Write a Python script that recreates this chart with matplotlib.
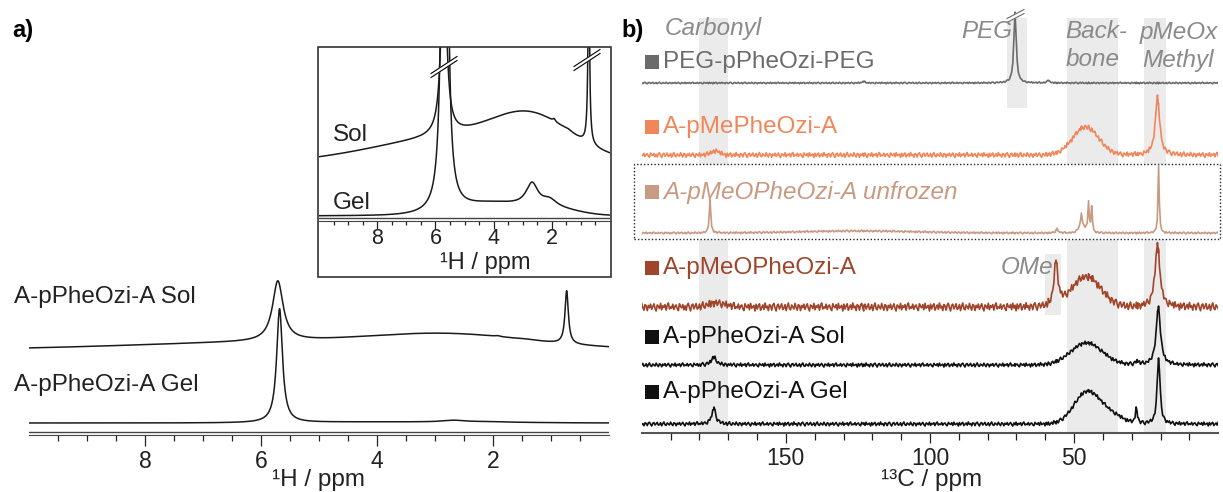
import numpy as np
import matplotlib.pyplot as plt
from matplotlib.lines import Line2D
from matplotlib.patches import Rectangle
from matplotlib.ticker import FixedLocator

plt.rcParams['font.family'] = ['Liberation Sans', 'DejaVu Sans']

W, H = 1223, 492

# ---------- panel a : 1H spectra ----------
# lorentz peaks (ppm, half width, height) and broad gaussians (ppm, sigma, height)
h_sol_lor = [(5.71, 0.11, 60), (0.73, 0.035, 53), (1.92, 0.05, 0.8), (1.45, 0.15, 0.5)]
h_sol_gau = [(5.0, 3.0, 9), (2.7, 1.3, 10)]
h_gel_lor = [(5.68, 0.06, 114), (2.68, 0.25, 1.9), (2.08, 0.3, 0.6)]
h_gel_gau = [(4.0, 1.2, 1.0), (1.8, 0.8, 0.4)]
h_labels = ['A-pPheOzi-A Sol', 'A-pPheOzi-A Gel']
h_offsets = [84.3, 11.5]
inset_labels = ['Sol', 'Gel']
inset_scale = [3.1, 12]
inset_offset = [57.2, 5]
h_major = [8, 6, 4, 2]
h_minor = [9.5, 9, 8.5, 7.5, 7, 6.5, 5.5, 5, 4.5, 3.5, 3, 2.5, 1.5, 1, 0.5]

# ---------- panel b : 13C spectra ----------
c_names = ['PEG-pPheOzi-PEG', 'A-pMePheOzi-A', 'A-pMeOPheOzi-A unfrozen',
           'A-pMeOPheOzi-A', 'A-pPheOzi-A Sol', 'A-pPheOzi-A Gel']
c_colors = ['#6b6b6b', '#f0875a', '#c99a82', '#a0452a', '#111111', '#111111']
c_lor = [
    [(70.5, 0.5, 71), (59, 0.4, 3), (123, 0.5, 1.5)],
    [(21.1, 0.9, 58)],
    [(176.3, 0.3, 33), (47.5, 0.35, 14), (45.0, 0.25, 28), (43.9, 0.25, 25),
     (20.7, 0.25, 67), (56, 0.5, 4)],
    [(56.3, 0.8, 44), (21.1, 1.0, 62)],
    [(20.8, 0.9, 58), (175, 1.0, 8), (28, 0.8, 3)],
    [(20.7, 0.6, 66), (28.4, 0.4, 15), (175, 0.8, 16)],
]
c_gau = [
    [],
    [(46, 4.5, 28), (174.5, 1.5, 4)],
    [(125, 20, 2), (47, 1.5, 5)],
    [(45.7, 5, 30), (174, 3, 4)],
    [(45.7, 5.5, 22)],
    [(45.5, 4.5, 32), (37, 4, 8)],
]
c_offsets = [350, 278, 200, 126, 68, 9]
c_noise = [0.8, 2.5, 1.0, 4.0, 2.0, 2.0]
c_label_y = [62, 127, 192, 268, 337, 392]
c_major = [150, 100, 50]
c_minor = [190, 180, 170, 160, 140, 130, 120, 110, 90, 80, 70, 60, 40, 30, 20, 10]

# hand typed baseline ripple
ripple = [0.3, -0.8, 0.5, 0.9, -0.2, -1.0, 0.4, 0.7, -0.5, 0.1, 0.8, -0.6, -0.3,
          0.6, -0.9, 0.2, 1.0, -0.4, -0.7, 0.5, 0.0, -0.5, 0.9, -0.1, -0.8, 0.6,
          0.3, -0.9, 0.4, -0.2, 0.7, -0.6, 0.1, 0.8, -0.3, -1.0, 0.5, 0.2, -0.4,
          0.9, -0.7, 0.3, -0.1, 0.6, -0.8, 0.4, 1.0, -0.5, 0.0, -0.3, 0.7, -0.6, 0.2,
          0.5, -0.4, -0.9, 0.8, 0.1, -0.2, 0.6, -0.7, 0.9, -0.3, 0.0, 0.4, -1.0, 0.7,
          -0.5, 0.3, 0.8, -0.8, -0.1, 0.5, -0.6, 1.0, -0.2, 0.2, -0.9, 0.6]


def spectrum(x, lor, gau):
    y = np.zeros_like(x)
    for c, w, h in lor:
        y += h / (1 + ((x - c) / w) ** 2)
    for c, s, h in gau:
        y += h * np.exp(-0.5 * ((x - c) / s) ** 2)
    return y


def fx(px):
    return px / W


def fy(py):
    return 1 - py / H


def brk(fig, x0, y0, x1, y1, color='k'):
    # double slash break mark, pixel coords
    fig.add_artist(Line2D([fx(x0), fx(x1)], [fy(y0 + 1.5), fy(y1 + 1.5)], color='white', lw=3))
    for d in (-0.5, 3.5):
        fig.add_artist(Line2D([fx(x0), fx(x1)], [fy(y0 + d), fy(y1 + d)], color=color, lw=0.8))


fig = plt.figure(figsize=(W / 100, H / 100), dpi=100)

tick_kw = dict(direction='out', labelsize=16.5, colors='#222', width=0.9)

# ---- panel a main
ax_a = fig.add_axes([fx(29), fy(434.5), (609 - 29) / W, (434.5 - 270) / H])
xh = np.linspace(10, 0, 2000)
h_spec = [spectrum(xh, h_sol_lor, h_sol_gau), spectrum(xh, h_gel_lor, h_gel_gau)]
for s, off in zip(h_spec, h_offsets):
    ax_a.plot(xh, s + off, color='#1a1a1a', lw=1.1)
ax_a.axhline(3, color='#444', lw=1)
ax_a.set_xlim(10, 0)
ax_a.set_ylim(0, 164.5)
for sp in ['top', 'left', 'right']:
    ax_a.spines[sp].set_visible(False)
ax_a.spines['bottom'].set_color('#444')
ax_a.set_yticks([])
ax_a.xaxis.set_major_locator(FixedLocator(h_major))
ax_a.xaxis.set_minor_locator(FixedLocator(h_minor))
ax_a.tick_params(axis='x', which='major', length=8, pad=3, **tick_kw)
ax_a.tick_params(axis='x', which='minor', length=4.5, direction='out', colors='#222', width=0.9)
ax_a.patch.set_alpha(0)

fig.text(fx(14), fy(297), h_labels[0], fontsize=17.5, va='center', color='#222')
fig.text(fx(14), fy(385), h_labels[1], fontsize=17.5, va='center', color='#222')
fig.text(fx(319), fy(480), '¹H / ppm', fontsize=17.5, ha='center', va='center', color='#222')
fig.text(fx(12), fy(30), 'a)', fontsize=17, fontweight='bold', va='center')

# ---- inset
ax_in = fig.add_axes([fx(319), fy(221), (610 - 319) / W, (221 - 47) / H])
for s, sc, off in zip(h_spec, inset_scale, inset_offset):
    ax_in.plot(xh, s * sc + off, color='#1a1a1a', lw=1.1)
ax_in.axhline(3, color='#444', lw=1)
ax_in.set_xlim(10, 0)
ax_in.set_ylim(0, 174)
for sp in ['top', 'left', 'right']:
    ax_in.spines[sp].set_visible(False)
ax_in.spines['bottom'].set_color('#444')
ax_in.set_yticks([])
ax_in.xaxis.set_major_locator(FixedLocator(h_major))
ax_in.xaxis.set_minor_locator(FixedLocator(h_minor))
ax_in.tick_params(axis='x', which='major', length=6, pad=-1, direction='out',
                  labelsize=15.5, colors='#222', width=0.9)
ax_in.tick_params(axis='x', which='minor', length=3.2, direction='out', colors='#222', width=0.9)
ax_in.patch.set_alpha(0)
fig.add_artist(Rectangle((fx(318), fy(277)), (611 - 318) / W, (277 - 47) / H,
                         transform=fig.transFigure, fill=False, ec='#333', lw=1.2))
fig.text(fx(333), fy(135), inset_labels[0], fontsize=17.5, va='center', color='#222')
fig.text(fx(333), fy(203), inset_labels[1], fontsize=17.5, va='center', color='#222')
fig.text(fx(485), fy(263), '¹H / ppm', fontsize=17, ha='center', va='center', color='#222')
brk(fig, 431, 74, 457, 57)
brk(fig, 574, 67, 600, 50)

# ---- panel b
ax_b = fig.add_axes([fx(641.7), fy(433), (1218.3 - 641.7) / W, 433 / H])
centres = [c for lor in c_lor for c, w, h in lor]
xc = np.unique(np.concatenate([np.linspace(0, 200, 520), centres]))[::-1]
for i, (name, col, lor, gau, off, amp) in enumerate(zip(c_names, c_colors, c_lor, c_gau,
                                                         c_offsets, c_noise)):
    rip = np.roll(np.resize(np.array(ripple), xc.size), i * 13) * amp
    ax_b.plot(xc, spectrum(xc, lor, gau) + off + rip, color=col, lw=1.2, zorder=3)

band = '#ebebeb'
top = (433 - 18) / 433
ax_b.axvspan(180, 170, ymin=1 / 433, ymax=top, color=band, lw=0, zorder=0)
ax_b.axvspan(52.6, 34.8, ymin=1 / 433, ymax=top, color=band, lw=0, zorder=0)
ax_b.axvspan(25.9, 18, ymin=1 / 433, ymax=top, color=band, lw=0, zorder=0)
ax_b.axvspan(73.4, 66.5, ymin=(433 - 108) / 433, ymax=top, color=band, lw=0, zorder=0)
ax_b.axvspan(60.1, 54.4, ymin=(433 - 315) / 433, ymax=(433 - 254) / 433, color=band, lw=0, zorder=0)
ax_b.add_patch(Rectangle((202.5, 433 - 239), -203.1, 75, fc='white', ec='#222',
                         ls=(0, (1, 1.5)), lw=1, clip_on=False, zorder=1))

ax_b.set_xlim(200, 0)
ax_b.set_ylim(0, 433)
for sp in ['top', 'left', 'right']:
    ax_b.spines[sp].set_visible(False)
ax_b.spines['bottom'].set_color('#555')
ax_b.spines['bottom'].set_linewidth(1.5)
ax_b.set_yticks([])
ax_b.xaxis.set_major_locator(FixedLocator(c_major))
ax_b.xaxis.set_minor_locator(FixedLocator(c_minor))
ax_b.tick_params(axis='x', which='major', length=7.2, pad=3, **tick_kw)
ax_b.tick_params(axis='x', which='minor', length=5, direction='out', colors='#222', width=0.9)
ax_b.patch.set_alpha(0)
fig.text(fx(932), fy(480), '¹³C / ppm', fontsize=17.5, ha='center', va='center', color='#222')
fig.text(fx(621), fy(30), 'b)', fontsize=17, fontweight='bold', va='center')

for name, col, yy in zip(c_names, c_colors, c_label_y):
    fig.add_artist(Line2D([fx(652)], [fy(yy)], marker='s', ms=10, color=col, mew=0))
    st = 'italic' if 'unfrozen' in name else 'normal'
    fig.text(fx(663), fy(yy), name, fontsize=17.5, va='center', color=col, style=st)

gray = '#8a8a8a'
ann = dict(fontsize=17.5, style='italic', color=gray, va='center')
fig.text(fx(665), fy(28), 'Carbonyl', **ann)
fig.text(fx(1012), fy(32), 'PEG', ha='right', **ann)
fig.text(fx(1065), fy(32), 'Back-', **ann)
fig.text(fx(1066), fy(60), 'bone', **ann)
fig.text(fx(1140), fy(32), 'pMeOx', **ann)
fig.text(fx(1142), fy(60), 'Methyl', **ann)
fig.text(fx(1053), fy(268), 'OMe', ha='right', **ann)
brk(fig, 1007, 19, 1024, 10, color='#6b6b6b')

fig.savefig('out.png', dpi=100)
